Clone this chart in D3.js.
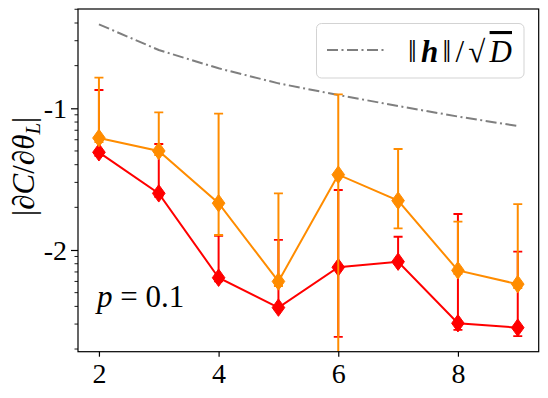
<!DOCTYPE html>
<html>
<head>
<meta charset="utf-8">
<script src="https://cdn.jsdelivr.net/npm/d3@7"></script>
<style>
  html, body { margin: 0; padding: 0; background: #fff; }
  svg text { font-family: "Liberation Serif", "DejaVu Serif", "Noto Serif", "Times New Roman", Tinos, serif !important; }
</style>
</head>
<body>
<svg id="chart" width="548" height="398"></svg>
<script>
// ---- data ----
const layers = [2, 3, 4, 5, 6, 7, 8, 9];
const redValues   = [0.0489, 0.0251, 0.00637, 0.00392, 0.00755, 0.00827, 0.00304, 0.00283];
const redUpper    = [0.1346, 0.0560, 0.01256, 0.01177, 0.0265, 0.0124, 0.01795, 0.00973];
const redLower    = [0.0461, 0.0237, 0.0060, 0.00376, 0.00244, 0.00796, 0.00273, 0.00247];
const orangeValues = [0.0617, 0.0500, 0.0214, 0.0060, 0.0340, 0.0223, 0.00718, 0.00574];
const orangeUpper  = [0.1644, 0.0937, 0.0916, 0.0251, 0.1256, 0.0516, 0.01584, 0.0211];
const orangeLower  = [0.0578, 0.0468, 0.01276, 0.00557, 0.0005, 0.01422, 0.00678, 0.00539];
const normValues   = [0.3916, 0.2578, 0.1915, 0.150, 0.1241, 0.1038, 0.0875, 0.0750];
const xTickValues = [2, 4, 6, 8];
const yTickValues = [0.1, 0.01];
const yTickLabels = ["-1", "-2"];

// ---- layout ----
const W = 548, H = 398;
const L = 78, R = 538.7, T = 9, B = 351.7;
const svg = d3.select("#chart");

const x = d3.scaleLinear().domain([1.65, 9.35]).range([L, R]);
const y = d3.scaleLog().domain([0.001915, 0.5022]).range([B, T]);

svg.append("defs").append("clipPath").attr("id", "plotclip")
  .append("rect").attr("x", L).attr("y", T).attr("width", R - L).attr("height", B - T);

const plot = svg.append("g").attr("clip-path", "url(#plotclip)");

// gray reference line
plot.append("path")
  .datum(layers.map((l, i) => [l, normValues[i]]))
  .attr("d", d3.line().x(d => x(d[0])).y(d => y(d[1])))
  .attr("fill", "none").attr("stroke", "#7f7f7f").attr("stroke-width", 2)
  .attr("stroke-dasharray", "11,3.5,2,3.5");

const diamond = "M0,-8.7L6.3,0L0,8.7L-6.3,0Z";

function drawSeries(vals, lo, hi, color) {
  const g = plot.append("g");
  g.append("path")
    .datum(layers.map((l, i) => [l, vals[i]]))
    .attr("d", d3.line().x(d => x(d[0])).y(d => y(d[1])))
    .attr("fill", "none").attr("stroke", color).attr("stroke-width", 2);
  layers.forEach((l, i) => {
    const cx = x(l);
    g.append("line").attr("x1", cx).attr("x2", cx)
      .attr("y1", y(lo[i])).attr("y2", y(hi[i]))
      .attr("stroke", color).attr("stroke-width", 2);
    [lo[i], hi[i]].forEach(v => {
      g.append("line").attr("x1", cx - 4.5).attr("x2", cx + 4.5)
        .attr("y1", y(v)).attr("y2", y(v))
        .attr("stroke", color).attr("stroke-width", 1.8);
    });
  });
  layers.forEach((l, i) => {
    g.append("path").attr("d", diamond)
      .attr("transform", `translate(${x(l)},${y(vals[i])})`)
      .attr("fill", color).attr("stroke", color).attr("stroke-width", 1);
  });
}
drawSeries(redValues, redLower, redUpper, "#ff0000");
drawSeries(orangeValues, orangeLower, orangeUpper, "#ff8c00");

// frame
svg.append("rect").attr("x", L).attr("y", T).attr("width", R - L).attr("height", B - T)
  .attr("fill", "none").attr("stroke", "#000").attr("stroke-width", 1.2);

// x axis
const xAxis = d3.axisBottom(x).tickValues(xTickValues).tickSize(5).tickPadding(6)
  .tickFormat(d3.format("d"));
const gx = svg.append("g").attr("transform", `translate(0,${B})`).call(xAxis);
gx.attr("font-family", null);
gx.select(".domain").remove();
gx.selectAll("line").attr("stroke", "#000").attr("stroke-width", 1.2);
gx.selectAll("text").attr("font-size", 28).attr("fill", "#000");

// y axis major
const yAxis = d3.axisLeft(y).tickValues(yTickValues).tickSize(7).tickPadding(4)
  .tickFormat((d, i) => yTickLabels[i]);
const gy = svg.append("g").attr("transform", `translate(${L},0)`).call(yAxis);
gy.attr("font-family", null);
gy.select(".domain").remove();
gy.selectAll("line").attr("stroke", "#000").attr("stroke-width", 1.2);
gy.selectAll("text").attr("font-size", 28).attr("fill", "#000").attr("dy", "0.34em");

// y minor ticks
const minor = [];
[0.001, 0.01, 0.1].forEach(dec => {
  for (let k = 2; k <= 9; k++) {
    const v = dec * k;
    if (v > y.domain()[0] && v < y.domain()[1]) minor.push(v);
  }
});
svg.append("g").selectAll("line").data(minor).join("line")
  .attr("x1", L - 3.5).attr("x2", L).attr("y1", d => y(d)).attr("y2", d => y(d))
  .attr("stroke", "#000").attr("stroke-width", 0.9);

// y label
const ylab = svg.append("text")
  .attr("transform", `translate(34,${(T + B) / 2 - 14}) rotate(-90)`)
  .attr("text-anchor", "middle").attr("font-size", 31).attr("fill", "#000");
ylab.append("tspan").text("|∂");
ylab.append("tspan").attr("font-style", "italic").text("C");
ylab.append("tspan").text("/∂");
ylab.append("tspan").attr("font-style", "italic").text("θ");
ylab.append("tspan").attr("font-style", "italic").attr("font-size", 21).attr("dy", 6).text("L");
ylab.append("tspan").attr("dy", -6).text("|");

// p = 0.1 annotation
const pt = svg.append("text").attr("x", 97).attr("y", 307).attr("font-size", 31).attr("fill", "#000");
pt.append("tspan").attr("font-style", "italic").text("p");
pt.append("tspan").text(" = 0.1");

// legend
const lg = svg.append("g");
lg.append("rect").attr("x", 316.5).attr("y", 23.5).attr("width", 207.5).attr("height", 54.5)
  .attr("rx", 5).attr("fill", "#fff").attr("fill-opacity", 0.8)
  .attr("stroke", "#d3d3d3").attr("stroke-width", 1);
lg.append("line").attr("x1", 327).attr("x2", 384).attr("y1", 50).attr("y2", 50)
  .attr("stroke", "#7f7f7f").attr("stroke-width", 2)
  .attr("stroke-dasharray", "11,3.5,2,3.5");
const lt = lg.append("text").attr("x", 408).attr("y", 62).attr("font-size", 31).attr("fill", "#000")
  .attr("textLength", 104).attr("lengthAdjust", "spacing");
lt.append("tspan").text("‖");
lt.append("tspan").attr("font-weight", "bold").attr("font-style", "italic").text("h");
lt.append("tspan").text("‖/√");
lt.append("tspan").attr("font-style", "italic").attr("text-decoration", "overline").text("D");
</script>
</body>
</html>
